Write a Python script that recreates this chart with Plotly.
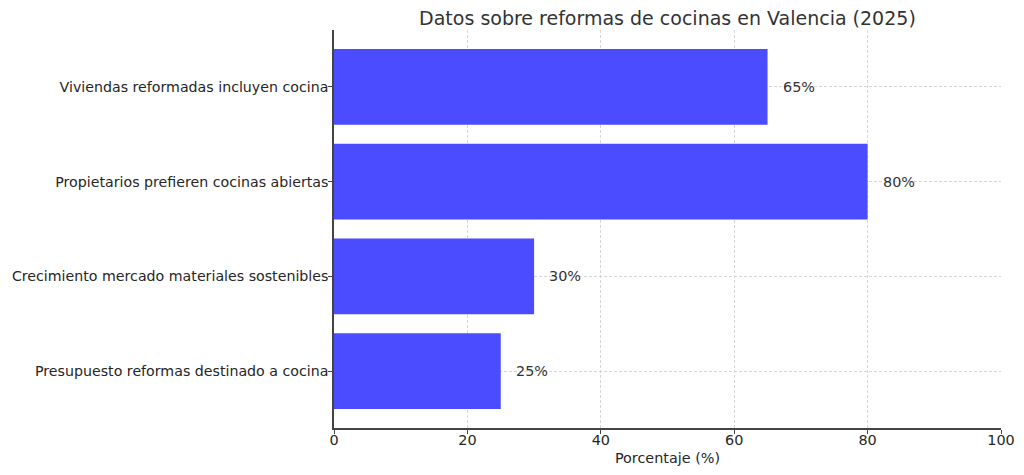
import plotly.graph_objects as go

categorias = [
    "Presupuesto reformas destinado a cocina",
    "Crecimiento mercado materiales sostenibles",
    "Propietarios prefieren cocinas abiertas",
    "Viviendas reformadas incluyen cocina",
]
porcentajes = [25, 30, 80, 65]
ticks_x = [0, 20, 40, 60, 80, 100]

fig = go.Figure()
fig.add_trace(go.Bar(
    x=porcentajes,
    y=categorias,
    orientation="h",
    width=0.8,
    marker=dict(color="#4b4bff", line=dict(width=0)),
    hoverinfo="x+y",
))

# etiquetas de valor a la derecha de cada barra
for cat, val in zip(categorias, porcentajes):
    fig.add_annotation(
        x=val + 2, y=cat, text="{}%".format(val),
        xanchor="left", yanchor="middle", showarrow=False,
        font=dict(size=14.4, color="#333333"),
    )

fig.update_layout(
    width=1024, height=475,
    paper_bgcolor="white", plot_bgcolor="white",
    margin=dict(l=326, r=31, t=22, b=55, autoexpand=False),
    font=dict(family="DejaVu Sans", size=14.4, color="#262626"),
    title=dict(
        text="Datos sobre reformas de cocinas en Valencia (2025)",
        x=0.644, xanchor="center", y=0.979, yanchor="middle",
        font=dict(size=19, color="#333333"),
    ),
    showlegend=False,
)
fig.update_xaxes(
    range=[0, 100], tickvals=ticks_x,
    showgrid=True, gridcolor="#d6d6d6", griddash="3px,2px", gridwidth=1,
    showline=True, linecolor="#444444", linewidth=1.5,
    ticks="outside", ticklen=4, tickcolor="#444444",
    ticklabelstandoff=-6, automargin=False,
    zeroline=False,
    title=dict(text="Porcentaje (%)", font=dict(size=14.4), standoff=6),
)
fig.update_yaxes(
    range=[-0.6, 3.6], type="category",
    showgrid=True, gridcolor="#d6d6d6", griddash="3px,2px", gridwidth=1,
    showline=True, linecolor="#444444", linewidth=1.5,
    ticks="outside", ticklen=4, tickcolor="#444444",
    tickfont=dict(size=14.2),
    ticklabelstandoff=-3, automargin=False,
    zeroline=False,
)

fig.write_html("out.html")
